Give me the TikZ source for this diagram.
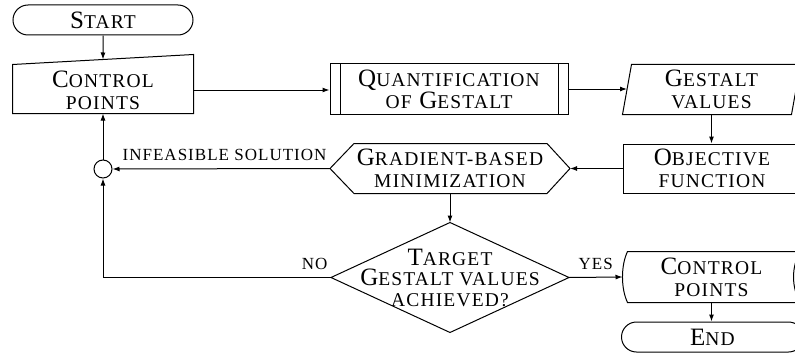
\documentclass[tikz,border=0pt]{standalone}
\usepackage{fontspec}
\setmainfont{Liberation Serif}
\newfontfamily\scfont[LetterSpace=6]{Liberation Serif}
\usetikzlibrary{shapes.misc}
\usepgflibrary{arrows.meta}
\newcommand\lowcap[1]{{\fontsize{19.5pt}{22pt}\selectfont #1}}
\newcommand\boxfont{\scfont\fontsize{25pt}{22pt}\selectfont}
\newcommand\labfont{\scfont\fontsize{17pt}{18pt}\selectfont}
\begin{document}
\begin{tikzpicture}
    [x=1pt, y=-1pt, line width=1pt,
    arr/.style={-{Latex[length=7pt, width=5pt]}},
    every node/.style={font=\boxfont, align=center, inner sep=0pt},
    terminal/.style={rounded rectangle, draw, minimum height=30pt},
    lab/.style={font=\labfont, inner xsep=3pt, inner ysep=7pt}]
    \useasboundingbox (0,0) rectangle (795,353);
    \clip (0,0) rectangle (795,353);

    % nodes
    \node[terminal, minimum width=180pt] (start) at (103,20) {S\lowcap{TART}};
    \node[minimum width=180pt, minimum height=46pt] (cpin) at (103,90) {C\lowcap{ONTROL}\\\lowcap{POINTS}};
    \node[draw, minimum width=238pt, minimum height=50pt] (quant) at (449,89) {Q\lowcap{UANTIFICATION}\\\lowcap{OF} G\lowcap{ESTALT}};
    \node[minimum width=168pt, minimum height=49pt] (gv) at (711.5,89.5) {G\lowcap{ESTALT}\\\lowcap{VALUES}};
    \node[draw, minimum width=178pt, minimum height=49pt] (obj) at (712,168.5) {O\lowcap{BJECTIVE}\\\lowcap{FUNCTION}};
    \node[minimum width=239pt, minimum height=49pt] (grad) at (450,168.5) {G\lowcap{RADIENT-BASED}\\\lowcap{MINIMIZATION}};
    \node[circle, draw, minimum size=18pt] (circ) at (103,169) {};
    \node[minimum width=237pt, minimum height=109pt, font=\scfont\fontsize{25pt}{20.5pt}\selectfont] (dec) at (450,277.5) {T\lowcap{ARGET}\\G\lowcap{ESTALT VALUES}\\\lowcap{ACHIEVED?}};
    \node[minimum width=177pt, minimum height=50pt] (cpout) at (711.5,277) {C\lowcap{ONTROL}\\\lowcap{POINTS}};
    \node[terminal, minimum width=182pt] (stop) at (712.5,337) {E\lowcap{ND}};

    % outlines
    \draw ([yshift=2pt]cpin.north west) -- ([yshift=12pt]cpin.north east) -- (cpin.south east) -- (cpin.south west) -- cycle;
    \coordinate (cpintop) at ([yshift=7pt]cpin.north);
    \draw ([xshift=11pt]quant.north west) -- ([xshift=11pt]quant.south west);
    \draw ([xshift=-10pt]quant.north east) -- ([xshift=-10pt]quant.south east);
    \draw ([xshift=4.5pt]gv.north west) -- ([xshift=4.5pt]gv.north east) -- ([xshift=-4.5pt]gv.south east) -- ([xshift=-4.5pt]gv.south west) -- cycle;
    \draw (grad.west) -- ([xshift=24pt]grad.north west) -- ([xshift=-23pt]grad.north east) -- (grad.east)
        -- ([xshift=-23pt]grad.south east) -- ([xshift=24pt]grad.south west) -- cycle;
    \draw (dec.west) -- (dec.north) -- (dec.east) -- (dec.south) -- cycle;
    \draw ([xshift=5pt]cpout.north west) -- (cpout.north east)
        .. controls ([xshift=-9.3pt, yshift=-14pt]cpout.north east) and ([xshift=-9.3pt, yshift=14pt]cpout.south east) .. (cpout.south east)
        -- ([xshift=5pt]cpout.south west)
        .. controls ([xshift=-1.7pt, yshift=14pt]cpout.south west) and ([xshift=-1.7pt, yshift=-14pt]cpout.north west) .. cycle;

    % connectors
    \draw[arr] (start) -- (cpintop);
    \draw[arr] (cpin.east) -- (cpin.east -| quant.west);
    \draw[arr] (quant.east) -- (quant.east -| gv.west);
    \draw[arr] (gv.south) -- (gv.south |- obj.north);
    \draw[arr] (obj.west) -- (grad.east);
    \draw[arr] (grad.west) -- node[lab, pos=0, anchor=south east] {INFEASIBLE SOLUTION} (circ);
    \draw[arr] (circ) -- (cpin.south);
    \draw[arr] (dec.west) node[lab, anchor=south east] {NO} -| (circ.south);
    \draw[arr] (grad.south) -- (dec.north);
    \draw[arr] (dec.east) -- node[lab, above] {YES} (cpout.west);
    \draw[arr] (cpout.south) -- (cpout.south |- stop.north);
\end{tikzpicture}
\end{document}
